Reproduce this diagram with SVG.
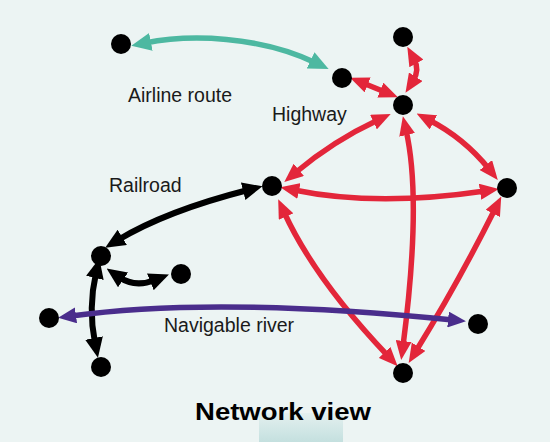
<svg xmlns="http://www.w3.org/2000/svg" width="550" height="442" viewBox="0 0 550 442">
<style>
.lbl{font-family:"Liberation Sans",Arial,sans-serif;font-size:19.5px;fill:#1a1a1a}
.title{font-family:"Liberation Sans",Arial,sans-serif;font-size:24px;font-weight:bold;fill:#000}
.node{fill:#000}
.c{fill:none;stroke-width:5.5}
.air{stroke:#4db8a1;marker-start:url(#aT);marker-end:url(#aT)}
.hw{stroke:#e3263a;marker-start:url(#aR);marker-end:url(#aR)}
.rr{stroke:#000;stroke-width:6;marker-start:url(#aK);marker-end:url(#aK)}
.rv{stroke:#4a2d8c;marker-start:url(#aP);marker-end:url(#aP)}
</style>
<defs>
<marker id="aT" markerUnits="userSpaceOnUse" markerWidth="20" markerHeight="18" refX="6" refY="9" orient="auto-start-reverse"><path d="M0,0 L20,9 L0,18 z" fill="#4db8a1"/></marker>
<marker id="aR" markerUnits="userSpaceOnUse" markerWidth="19" markerHeight="16" refX="5" refY="8" orient="auto-start-reverse"><path d="M0,0 L19,8 L0,16 z" fill="#e3263a"/></marker>
<marker id="aK" markerUnits="userSpaceOnUse" markerWidth="20" markerHeight="18" refX="5" refY="9" orient="auto-start-reverse"><path d="M0,0 L20,9 L0,18 z" fill="#000"/></marker>
<marker id="aP" markerUnits="userSpaceOnUse" markerWidth="18" markerHeight="16" refX="5" refY="8" orient="auto-start-reverse"><path d="M0,0 L18,8 L0,16 z" fill="#4a2d8c"/></marker>
<linearGradient id="tab" x1="0" y1="0" x2="0" y2="1"><stop offset="0" stop-color="#e4f0ef"/><stop offset="1" stop-color="#c4e0df"/></linearGradient>
</defs>
<rect width="550" height="442" fill="#ecf4f3"/>
<rect x="259" y="413" width="84" height="29" fill="url(#tab)"/>
<g id="connectors">
<path class="c air" d="M145,43 C190,34 260,36 316,63"/>
<path class="c hw" d="M363,83 L385,92"/>
<path class="c hw" d="M414,59 Q420,70 413,81"/>
<path class="c hw" d="M378,120 Q333,141 295,173"/>
<path class="c hw" d="M429,120 Q464,138 489,169"/>
<path class="c hw" d="M294,190 Q376,207 485,191"/>
<path class="c hw" d="M406,130 Q422,200 403,346"/>
<path class="c hw" d="M284,212 Q314,278 388,356"/>
<path class="c hw" d="M495,209 Q458,283 416,351"/>
<path class="c rr" d="M248,190 Q166,211 118,240"/>
<path class="c rr" d="M119,277 Q135,288 155,280"/>
<path class="c rr" d="M96,273 Q88,308 95,343"/>
<path class="c rv" d="M71,316 Q215,296 453,320"/>
</g>
<g id="n-air1"><circle class="node" cx="121" cy="44" r="10"/></g>
<g id="n-air2"><circle class="node" cx="342" cy="78" r="10"/></g>
<g id="n-top"><circle class="node" cx="403" cy="37" r="10"/></g>
<g id="n-hub"><circle class="node" cx="403" cy="105" r="10"/></g>
<g id="n-left"><circle class="node" cx="272" cy="186" r="10"/></g>
<g id="n-right"><circle class="node" cx="507" cy="188" r="10"/></g>
<g id="n-bottom"><circle class="node" cx="403" cy="373" r="10"/></g>
<g id="n-rail1"><circle class="node" cx="101" cy="256" r="10"/></g>
<g id="n-rail2"><circle class="node" cx="181" cy="274" r="10"/></g>
<g id="n-rail3"><circle class="node" cx="101" cy="367" r="10"/></g>
<g id="n-river1"><circle class="node" cx="49" cy="318" r="10"/></g>
<g id="n-river2"><circle class="node" cx="478" cy="324" r="10"/></g>
<g id="labels">
<text class="lbl" x="128" y="102">Airline route</text>
<text class="lbl" x="272" y="121">Highway</text>
<text class="lbl" x="109" y="192">Railroad</text>
<text class="lbl" x="164" y="332">Navigable river</text>
<text class="title" x="195" y="420" textLength="176" lengthAdjust="spacingAndGlyphs">Network view</text>
</g>
</svg>
